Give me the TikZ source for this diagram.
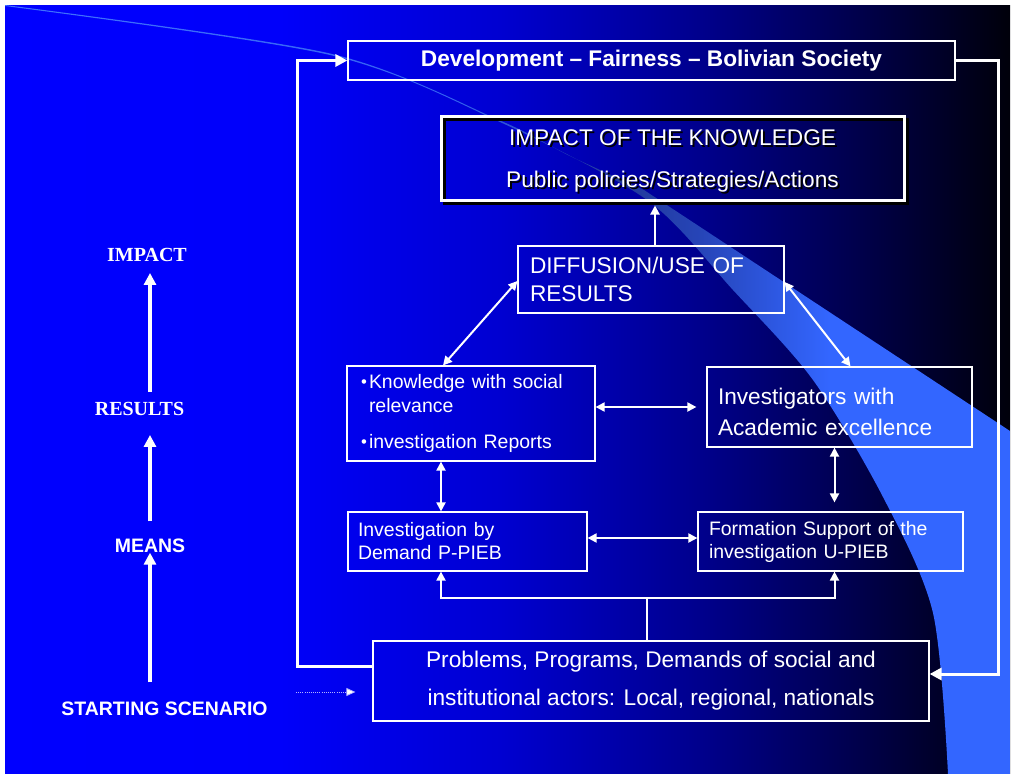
\documentclass[tikz,border=0pt]{standalone}
\usepackage{fontspec}
\setmainfont{Liberation Sans}
\newfontfamily\timesfont{Liberation Serif}
\usetikzlibrary{arrows.meta,calc,shadows}

% slide background and the light swoosh
\pgfdeclarehorizontalshading{slidebg}{100bp}{rgb(0bp)=(0,0,1); rgb(25bp)=(0,0,1); rgb(38.7bp)=(0,0,0.98); rgb(49.6bp)=(0,0,0.82); rgb(59.6bp)=(0,0,0.55); rgb(67bp)=(0,0,0.31); rgb(75bp)=(0,0,0.04); rgb(100bp)=(0,0,0.04)}
\pgfdeclarehorizontalshading{swoosh}{100bp}{rgb(0bp)=(0.25,0.45,1); rgb(25bp)=(0.25,0.45,1); rgb(47.1bp)=(0.2,0.38,0.95); rgb(55.6bp)=(0.13,0.22,0.6); rgb(59.6bp)=(0.15,0.27,0.72); rgb(63.6bp)=(0.18,0.35,0.9); rgb(66bp)=(0.2,0.4,1); rgb(100bp)=(0.2,0.4,1)}

% white text with a black drop shadow
\newcommand{\shadowed}[1]{\makebox[0pt][l]{\kern1.5pt\raisebox{-1.5pt}{\color{black}#1}}#1}
% small list bullet
\newcommand{\dotitem}{\makebox[6pt][l]{\raisebox{0.8pt}{\fontsize{12.5}{12.5}\selectfont\textbullet}}}

\begin{document}
\begin{tikzpicture}[x=0.75pt,y=-0.75pt,
        box/.style={draw=white,line width=0.9pt,text=white,inner ysep=0pt},
        stagelbl/.style={text=white,inner sep=0pt},
        stage/.style={white,line width=3.4pt,-{Triangle[length=9pt,width=9pt]}},
        frame/.style={white,line width=2.25pt,-{Triangle[length=9pt,width=9pt]}},
        link/.style={white,line width=1.5pt,{Triangle[length=6.75pt,width=6.75pt]}-{Triangle[length=6.75pt,width=6.75pt]}},
        uplink/.style={white,line width=1.5pt,-{Triangle[length=6.75pt,width=6.75pt]}}]

    % Background
    \fill[white] (0,0) rectangle (1018,774);
    \shade[shading=slidebg] (5,6) rectangle (1010,774);
    \begin{scope}
        \clip (5,6) rectangle (1010,774);
        \shade[shading=swoosh] plot[smooth] coordinates {(5,6) (330,55) (500,122) (647,200) (733,290) (813,380) (883,497) (933,613) (948,774)}
            -- (1010,774) -- (1010,431)
            -- plot[smooth] coordinates {(644,190) (570,156) (500,120.5) (330,53.5) (5,5)} -- cycle;
    \end{scope}

    % Stages on the left
    \node[stagelbl,font=\timesfont\bfseries\fontsize{15}{15}\selectfont] (impactlbl) at (147,255) {IMPACT};
    \node[stagelbl,font=\timesfont\bfseries\fontsize{15}{15}\selectfont] (results) at (139.5,409) {RESULTS};
    \node[stagelbl,font=\bfseries\fontsize{14.6}{15}\selectfont] (means) at (150,545.5) {MEANS};
    \node[stagelbl,font=\bfseries\fontsize{14.6}{15}\selectfont] (start) at (164.5,708.5) {STARTING SCENARIO};

    \draw[stage,shorten <=7.5pt,shorten >=8.25pt] (results.north -| means) -- (impactlbl.south -| means);
    \draw[stage,shorten <=12.75pt,shorten >=14.25pt] (means.north) -- (results.south -| means);
    \draw[stage,shorten <=14.25pt] (start.north -| means) -- (means.south);

    % Boxes
    \node[box,minimum width=455.25pt,minimum height=29.25pt,
        font=\bfseries\fontsize{17}{21}\selectfont] (dev) at (651.5,60.5)
        {Development -- Fairness -- Bolivian Society};
    \node[box,line width=2.25pt,minimum width=347.25pt,minimum height=62.25pt,align=center,
        font=\fontsize{17}{31.5}\selectfont,
        drop shadow={fill=none,draw=black,opacity=1,line width=2.25pt,shadow xshift=2.25pt,shadow yshift=-2.25pt}] (impact) at (672.5,158.5)
        {\rule{0pt}{17pt}\shadowed{IMPACT OF THE KNOWLEDGE}\\\shadowed{Public policies/Strategies/Actions}};
    \node[box,minimum height=50.25pt,inner xsep=9pt,text width=181.5pt,align=left,
        font=\fontsize{17}{21}\selectfont] (diff) at (651,279.5)
        {DIFFUSION/USE OF\\RESULTS};
    \node[box,minimum height=71.25pt,inner xsep=10.5pt,text width=165pt,align=left,
        font=\fontsize{14.6}{18}\selectfont] (know) at (471,413.5)
        {\dotitem Knowledge with social\\\hspace*{6pt}relevance\\[9pt]\dotitem investigation Reports};
    \node[box,minimum height=60pt,inner xsep=8.25pt,text width=182.25pt,align=left,
        font=\fontsize{17}{23.25}\selectfont] (invest) at (839.5,407)
        {\rule{0pt}{20pt}Investigators with\\Academic excellence};
    \node[box,minimum height=44.25pt,inner xsep=7.5pt,text width=164.25pt,align=left,
        font=\fontsize{14.6}{17.25}\selectfont] (demand) at (467.5,541.5)
        {Investigation by\\Demand P-PIEB};
    \node[box,minimum height=44.25pt,inner xsep=8.25pt,text width=182.25pt,align=left,
        font=\fontsize{14.6}{17.25}\selectfont] (formation) at (830.5,541.5)
        {Formation Support of the\\investigation U-PIEB};
    \node[box,minimum width=417pt,minimum height=60pt,align=center,
        font=\fontsize{17}{28.5}\selectfont] (problems) at (651,681)
        {Problems, Programs, Demands of social and\\institutional actors: Local, regional, nationals};

    % Outer loop
    \coordinate (lft) at (297,666);
    \coordinate (rgt) at (998,674);
    \draw[frame] (lft -| problems.west) -- (lft) |- (dev.west);
    \draw[frame] (dev.east) -| (rgt) -- (rgt -| problems.east);
    \coordinate (dots) at (296,692);
    \draw[white!70!blue,densely dotted,line width=0.6pt,-{Triangle[length=6.75pt,width=6pt,fill=white]},shorten >=12.75pt] (dots) -- (dots -| problems.west);

    % Links between boxes
    \draw[uplink,shorten >=3pt] ($(diff.north)+(4,0)$) -- ($(impact.south)+(-17.5,0)$);
    \draw[link] ($(know.north)+(-28,0)$) -- ($(diff.west)+(0,1.5)$);
    \draw[link] ($(diff.east)+(0,2.5)$) -- ($(invest.north)+(11,0)$);
    \draw[link,shorten >=7.5pt] (invest.west -| know.east) -- (invest.west);
    \draw[link] ($(know.south)+(-30,0)$) -- ($(demand.north)+(-26.5,0)$);
    \draw[link,shorten >=6.75pt] ($(invest.south)+(-5,0)$) -- ($(formation.north)+(4,0)$);
    \draw[link] ($(demand.east)+(0,-3.5)$) -- ($(formation.west)+(0,-3.5)$);

    % From the starting scenario up to both programmes
    \coordinate (fork) at (647,598);
    \draw[white,line width=1.5pt] ($(problems.north)+(-4,0)$) -- (fork);
    \draw[uplink] (fork) -| ($(demand.south)+(-26.5,0)$);
    \draw[uplink] (fork) -| ($(formation.south)+(4,0)$);

\end{tikzpicture}
\end{document}
